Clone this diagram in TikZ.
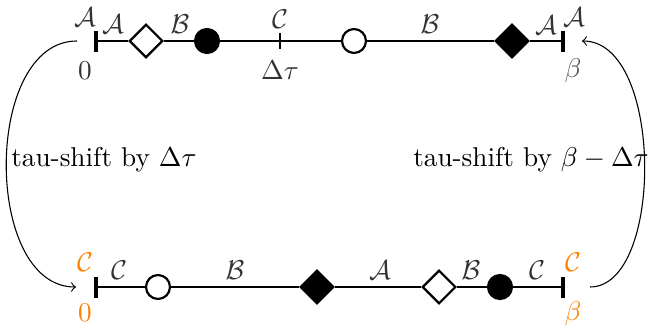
\documentclass[tikz,border=0pt]{standalone}
\usetikzlibrary{shapes.geometric}
\begin{document}
\begin{tikzpicture}[x=0.3675pt,y=-0.3675pt,
  mainline/.style={line width=0.5pt},
  tickmark/.style={line width=1.2pt},
  opencirc/.style={circle,draw,fill=white,line width=0.8pt,minimum size=8.8pt,inner sep=0pt},
  fillcirc/.style={circle,draw,fill=black,line width=0.8pt,minimum size=8.8pt,inner sep=0pt},
  opendiam/.style={diamond,draw,fill=white,line width=0.8pt,minimum size=12.3pt,inner sep=0pt},
  filldiam/.style={diamond,draw,fill=black,line width=0.8pt,minimum size=12.3pt,inner sep=0pt},
  lab/.style={text=black!80,inner sep=0pt},
  endlab/.style={text=black!80,inner sep=0pt},
  graylab/.style={text=black!65,inner sep=0pt},
  orlab/.style={text=orange,inner sep=0pt},
  shiftarrow/.style={->,line width=0.4pt}]
\useasboundingbox (0,0) rectangle (649,329);
% ---------- top row ----------
\coordinate (tL) at (96,41);
\coordinate (tR) at (563,41);
\coordinate (tD) at (280,41);
\node[opendiam] (t1) at (146,41) {};
\node[fillcirc] (t2) at (207,41) {};
\node[opencirc] (t3) at (354,41) {};
\node[filldiam] (t4) at (512,41) {};
\draw[mainline] (tL) -- (t1) (t1) -- (t2) (t2) -- (t3) (t3) -- (t4) (t4) -- (tR);
\draw[tickmark] (96,31) -- (96,52);
\draw[tickmark] (563,31) -- (563,52);
\draw[line width=0.4pt] (280,33) -- (280,49);
\node[endlab] (tlA) at (85,17) {$\mathcal{A}$};
\node[endlab] (tl0) at (85,71) {$0$};
\node[endlab] (trA) at (574,17) {$\mathcal{A}$};
\node[graylab] (trb) at (573,71) {$\beta$};
\node[lab] (ta1) at (113,24) {$\mathcal{A}$};
\node[lab] (tb1) at (180,24) {$\mathcal{B}$};
\node[lab] (tc1) at (280,19) {$\mathcal{C}$};
\node[lab] (tdt) at (280,70) {$\Delta\tau$};
\node[lab] (tb2) at (430,24) {$\mathcal{B}$};
\node[lab] (ta2) at (546,25) {$\mathcal{A}$};
% ---------- bottom row ----------
\coordinate (bL) at (96,287);
\coordinate (bR) at (563,287);
\node[opencirc] (b1) at (158,287) {};
\node[filldiam] (b2) at (317,287) {};
\node[opendiam] (b3) at (439,287) {};
\node[fillcirc] (b4) at (500,287) {};
\draw[mainline] (bL) -- (b1) (b1) -- (b2) (b2) -- (b3) (b3) -- (b4) (b4) -- (bR);
\draw[tickmark] (96,277) -- (96,298);
\draw[tickmark] (563,277) -- (563,298);
\node[orlab] (blC) at (85,262) {$\mathcal{C}$};
\node[orlab] (bl0) at (85,313) {$0$};
\node[orlab] (brC) at (573,262) {$\mathcal{C}$};
\node[orlab] (brb) at (573,314) {$\beta$};
\node[lab] (bc1) at (119,270) {$\mathcal{C}$};
\node[lab] (bb1) at (235,270) {$\mathcal{B}$};
\node[lab] (ba1) at (380,270) {$\mathcal{A}$};
\node[lab] (bb2) at (471,270) {$\mathcal{B}$};
\node[lab] (bc2) at (537,270) {$\mathcal{C}$};
% ---------- shift arrows ----------
\coordinate (lS) at (77,41);
\coordinate (lE) at (76,287);
\coordinate (rS) at (590,287);
\coordinate (rE) at (582,41);
\draw[shiftarrow] (lS) .. controls (-17,41) and (-17,287) .. (lE);
\draw[shiftarrow] (rS) .. controls (664,287) and (664,41) .. (rE);
\node[inner sep=0pt] (sl) at (104,160) {tau-shift by $\Delta\tau$};
\node[inner sep=0pt] (sr) at (531,160) {tau-shift by $\beta-\Delta\tau$};
\end{tikzpicture}
\end{document}
